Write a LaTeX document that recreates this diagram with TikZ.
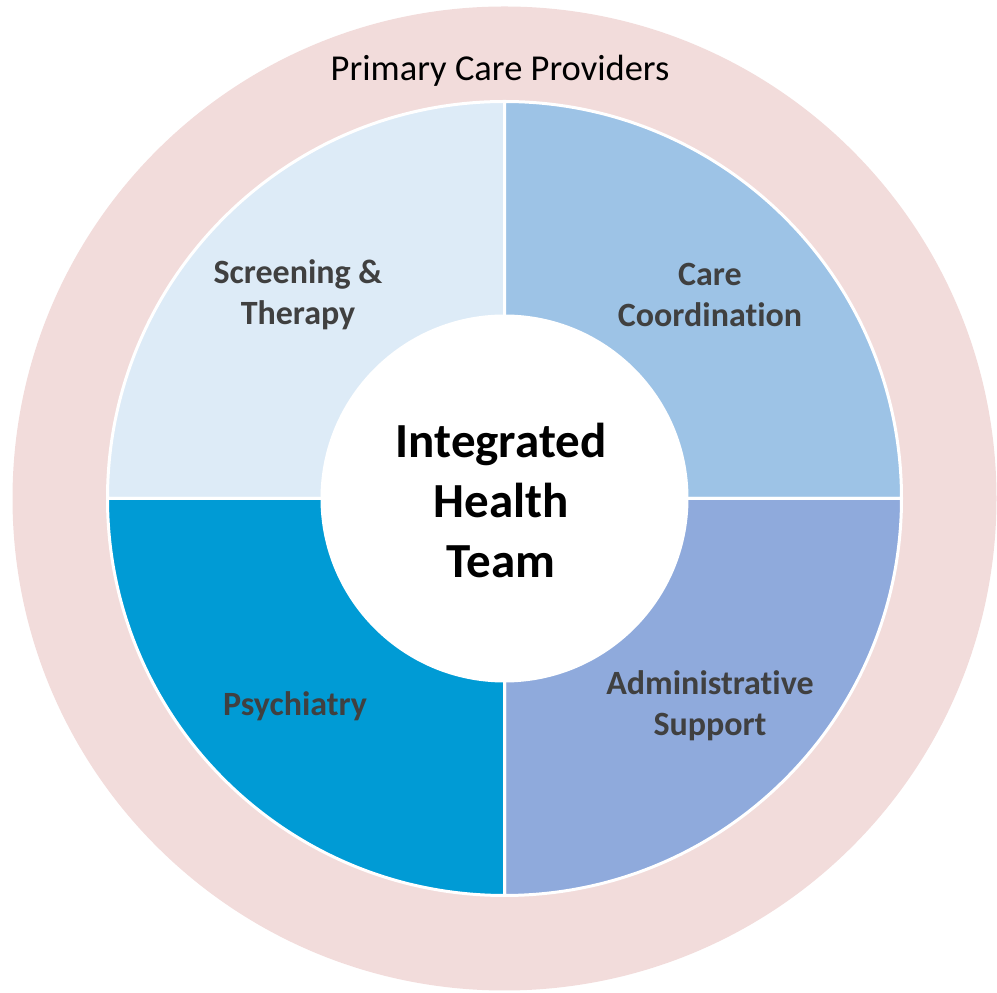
\documentclass[tikz,border=0pt]{standalone}
\usepackage{fontspec}
\setmainfont{Carlito}[Ligatures={NoCommon}]
\definecolor{ringpink}{HTML}{F2DCDB}
\definecolor{qtl}{HTML}{DDEBF7}
\definecolor{qtr}{HTML}{9DC3E6}
\definecolor{qbr}{HTML}{8FAADC}
\definecolor{qbl}{HTML}{009BD5}
\definecolor{labgray}{HTML}{404040}
\tikzset{
  quad/.style={draw=white, line width=3pt, line join=round},
  qlabel/.style={align=center, text=labgray, font=\bfseries\fontsize{34}{41}\selectfont},
}
\begin{document}
\begin{tikzpicture}[x=1pt,y=1pt]
\useasboundingbox (0,0) rectangle (997,993);
\coordinate (c) at (504.5,494.5);
\fill[ringpink] (c) circle (492);
\filldraw[quad, fill=qtl] (c) -- ++(180:397) arc[start angle=180, end angle=90, radius=397] -- cycle;
\filldraw[quad, fill=qtr] (c) -- ++(90:397) arc[start angle=90, end angle=0, radius=397] -- cycle;
\filldraw[quad, fill=qbr] (c) -- ++(0:397) arc[start angle=0, end angle=-90, radius=397] -- cycle;
\filldraw[quad, fill=qbl] (c) -- ++(-90:397) arc[start angle=-90, end angle=-180, radius=397] -- cycle;
\fill[white] (c) circle (184);
\node[font=\fontsize{36.5}{42}\selectfont, text=black] (pcp) at (500,922) {Primary Care Providers};
\node[qlabel] (scr) at (298,698) {Screening \&\\Therapy};
\node[qlabel] (care) at (710,698) {Care\\Coordination};
\node[qlabel] (psy) at (295,287) {Psychiatry};
\node[qlabel] (adm) at (710,287) {Administrative\\Support};
\node[align=center, text=black, font=\bfseries\fontsize{49}{60}\selectfont] (iht) at (501,493) {Integrated\\Health\\Team};
\end{tikzpicture}
\end{document}
